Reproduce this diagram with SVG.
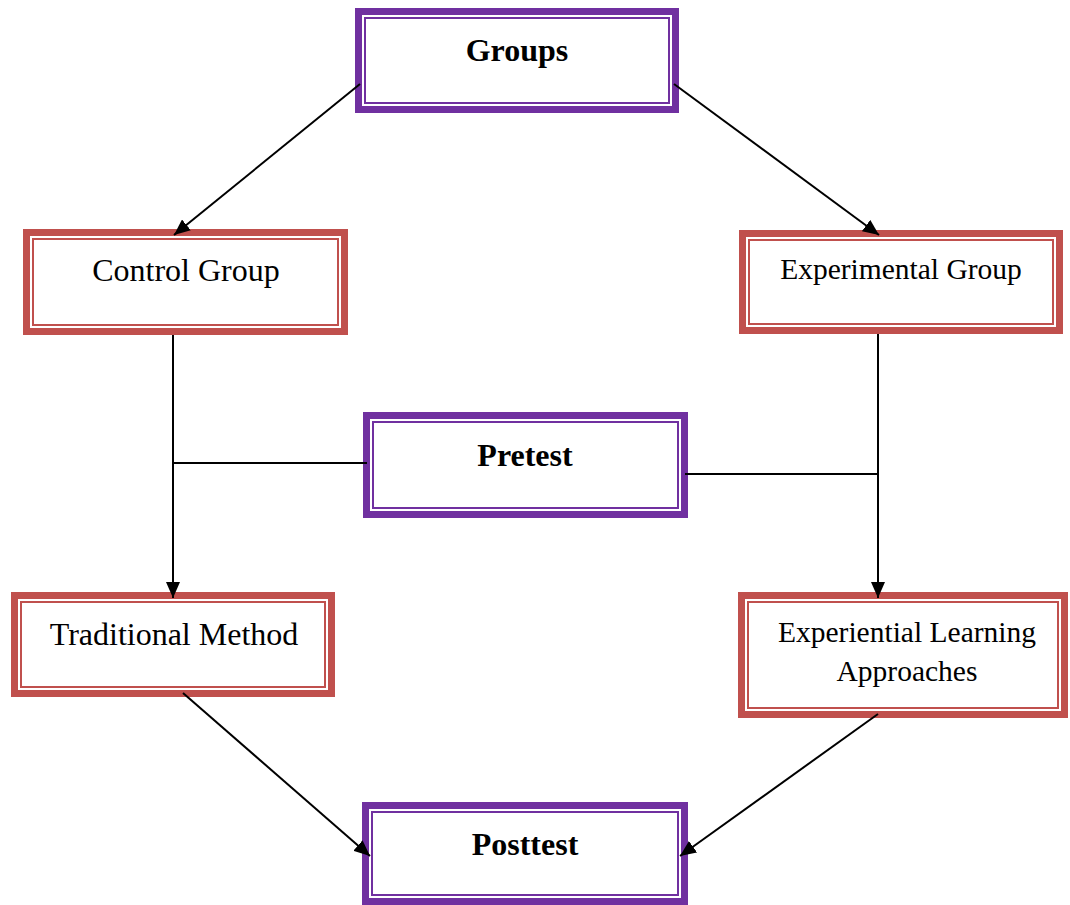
<svg xmlns="http://www.w3.org/2000/svg" width="1070" height="905" viewBox="0 0 1070 905">
<defs>
<style>
.po{fill:#fff;stroke:#7030a0;stroke-width:7}
.pi{fill:none;stroke:#7030a0;stroke-width:2}
.ro{fill:#fff;stroke:#c0504d;stroke-width:7}
.ri{fill:none;stroke:#c0504d;stroke-width:2}
.t{font-family:"Liberation Serif",serif;fill:#000;text-anchor:middle}
.b{font-weight:bold;font-size:32px}
.n{font-size:32px}
.s{font-size:29.5px}
.c{fill:none;stroke:#000;stroke-width:2}
</style>
<marker id="ah" markerWidth="16" markerHeight="14" refX="16" refY="7" orient="auto" markerUnits="userSpaceOnUse">
<path d="M0,0 L16,7 L0,14 Z" fill="#000"/>
</marker>
</defs>
<g id="groups">
<rect class="po" x="358.5" y="11.5" width="317" height="98"/>
<rect class="pi" x="365" y="18" width="304" height="85"/>
<text class="t b" x="517" y="61">Groups</text>
</g>
<g id="control-group">
<rect class="ro" x="26.5" y="232.5" width="318" height="99"/>
<rect class="ri" x="33" y="239" width="305" height="86"/>
<text class="t n" x="186" y="281">Control Group</text>
</g>
<g id="experimental-group">
<rect class="ro" x="742.5" y="233.5" width="317" height="97"/>
<rect class="ri" x="749" y="240" width="304" height="84"/>
<text class="t s" x="901" y="279">Experimental Group</text>
</g>
<g id="pretest">
<rect class="po" x="366.5" y="415.5" width="318" height="99"/>
<rect class="pi" x="373" y="422" width="305" height="86"/>
<text class="t b" x="525" y="466">Pretest</text>
</g>
<g id="traditional-method">
<rect class="ro" x="14.5" y="595.5" width="317" height="98"/>
<rect class="ri" x="21" y="602" width="304" height="85"/>
<text class="t n" x="174" y="645">Traditional Method</text>
</g>
<g id="experiential-learning">
<rect class="ro" x="741.5" y="595.5" width="323" height="119"/>
<rect class="ri" x="748" y="602" width="310" height="106"/>
<text class="t s" x="907" y="642">Experiential Learning</text>
<text class="t s" x="907" y="681">Approaches</text>
</g>
<g id="posttest">
<rect class="po" x="365.5" y="805.5" width="319" height="96"/>
<rect class="pi" x="372" y="812" width="306" height="83"/>
<text class="t b" x="525" y="855">Posttest</text>
</g>
<g id="connectors">
<line class="c" x1="360" y1="84" x2="174" y2="235" marker-end="url(#ah)"/>
<line class="c" x1="674" y1="84" x2="879" y2="235" marker-end="url(#ah)"/>
<line class="c" x1="173" y1="335" x2="173" y2="598" marker-end="url(#ah)"/>
<line class="c" x1="173" y1="463" x2="367" y2="463"/>
<line class="c" x1="685" y1="474" x2="878" y2="474"/>
<line class="c" x1="878" y1="334" x2="878" y2="598" marker-end="url(#ah)"/>
<line class="c" x1="183" y1="693" x2="370" y2="856" marker-end="url(#ah)"/>
<line class="c" x1="878" y1="714" x2="680" y2="856" marker-end="url(#ah)"/>
</g>
</svg>
